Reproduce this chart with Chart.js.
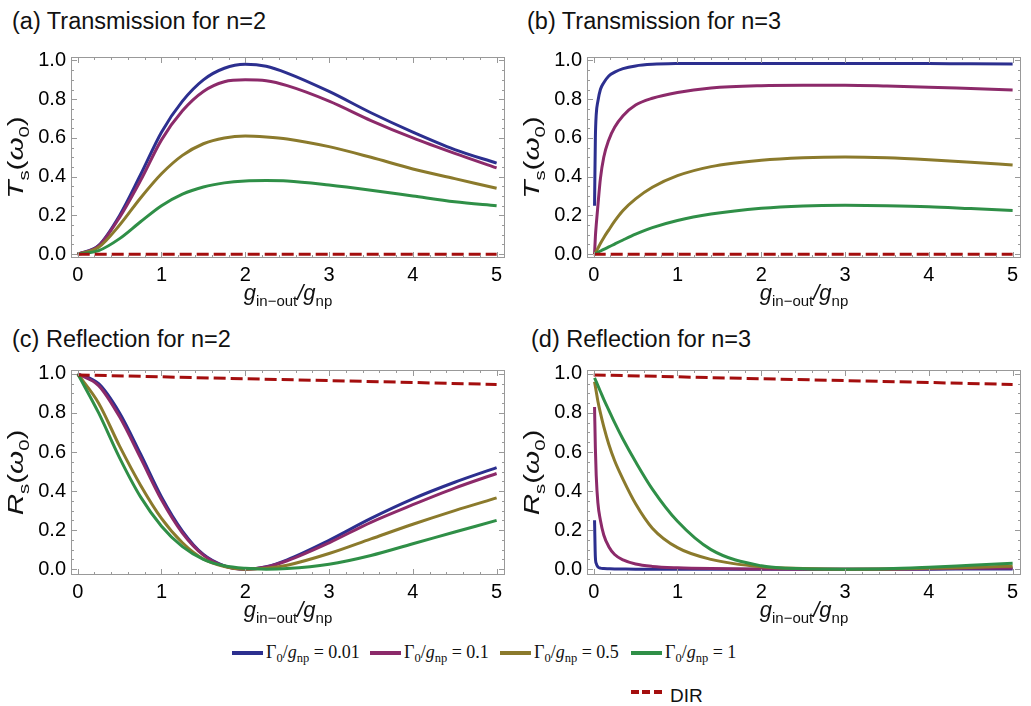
<!DOCTYPE html>
<html>
<head>
<meta charset="utf-8">
<script src="https://cdn.jsdelivr.net/npm/chart.js@4.4.1/dist/chart.umd.min.js"></script>
<style>
  body { margin: 0; background: #fff; width: 1031px; height: 706px; position: relative; overflow: hidden;
         font-family: "Liberation Sans", Arial, sans-serif; color: #111; }
  .panel { position: absolute; }
  .ptitle { position: absolute; font-size: 23.5px; white-space: nowrap; line-height: 26px; }
  .leg { position: absolute; font-family: "Liberation Serif", "DejaVu Serif", serif; font-size: 18px;
         line-height: 20px; white-space: nowrap; }
  .leg sub { font-size: 12.5px; vertical-align: -4px; line-height: 0; }
  .sw { position: absolute; height: 4px; width: 31px; }
</style>
</head>
<body>

<div class="ptitle" style="left:12px; top:8px">(a) Transmission for n=2</div>
<div class="ptitle" style="left:527px; top:8px">(b) Transmission for n=3</div>
<div class="ptitle" style="left:12px; top:326px">(c) Reflection for n=2</div>
<div class="ptitle" style="left:531px; top:326px">(d) Reflection for n=3</div>

<div class="panel" style="left:0px; top:40px"><canvas id="chartA" width="515" height="280"></canvas></div>
<div class="panel" style="left:514px; top:40px"><canvas id="chartB" width="517" height="280"></canvas></div>
<div class="panel" style="left:0px; top:353px"><canvas id="chartC" width="515" height="280"></canvas></div>
<div class="panel" style="left:514px; top:353px"><canvas id="chartD" width="517" height="280"></canvas></div>

<div id="legend"></div>

<script>
// x grid for the n=2 panels
var xGrid2 = [0, 0.25, 0.5, 0.75, 1, 1.25, 1.5, 1.75, 2, 2.25, 2.5, 3, 3.5, 4, 4.5, 5];
// x grid for the n=3 panels (dense near zero)
var xGrid3 = [0.01, 0.02, 0.03, 0.05, 0.08, 0.12, 0.18, 0.25, 0.35, 0.5, 0.7, 1, 1.4, 2, 2.5, 3, 3.5, 4, 4.5, 5];

// (a) transmission, n=2
var transN2_001 = [0, 0.045, 0.20, 0.41, 0.63, 0.79, 0.90, 0.96, 0.98, 0.97, 0.935, 0.84, 0.73, 0.63, 0.54, 0.47];
var transN2_01  = [0, 0.043, 0.19, 0.38, 0.59, 0.74, 0.84, 0.89, 0.90, 0.895, 0.87, 0.79, 0.69, 0.60, 0.52, 0.445];
var transN2_05  = [0, 0.035, 0.15, 0.29, 0.415, 0.51, 0.57, 0.60, 0.61, 0.605, 0.595, 0.555, 0.50, 0.44, 0.39, 0.34];
var transN2_1   = [0, 0.018, 0.08, 0.167, 0.25, 0.31, 0.347, 0.368, 0.378, 0.38, 0.378, 0.357, 0.33, 0.30, 0.27, 0.25];

// (b) transmission, n=3
var transN3_001 = [0.25, 0.60, 0.72, 0.79, 0.85, 0.885, 0.92, 0.94, 0.958, 0.972, 0.98, 0.984, 0.985, 0.985, 0.985, 0.985, 0.985, 0.984, 0.983, 0.982];
var transN3_01  = [0, 0.09, 0.15, 0.25, 0.39, 0.50, 0.59, 0.655, 0.715, 0.77, 0.805, 0.835, 0.858, 0.87, 0.872, 0.872, 0.868, 0.862, 0.855, 0.848];
var transN3_05  = [0, 0.007, 0.014, 0.03, 0.055, 0.085, 0.125, 0.17, 0.225, 0.285, 0.345, 0.405, 0.452, 0.485, 0.498, 0.502, 0.498, 0.488, 0.475, 0.46];
var transN3_1   = [0, 0.002, 0.004, 0.009, 0.016, 0.025, 0.037, 0.052, 0.073, 0.103, 0.137, 0.174, 0.207, 0.237, 0.249, 0.252, 0.25, 0.245, 0.235, 0.225];

// (c) reflection, n=2
var reflN2_001 = [1, 0.95, 0.80, 0.59, 0.37, 0.195, 0.075, 0.017, 0.0, 0.013, 0.048, 0.148, 0.26, 0.36, 0.445, 0.52];
var reflN2_01  = [1, 0.94, 0.78, 0.57, 0.355, 0.185, 0.072, 0.016, 0.0, 0.011, 0.043, 0.135, 0.24, 0.33, 0.415, 0.49];
var reflN2_05  = [1, 0.85, 0.63, 0.43, 0.26, 0.135, 0.052, 0.013, 0.0, 0.004, 0.02, 0.08, 0.155, 0.23, 0.30, 0.365];
var reflN2_1   = [1, 0.80, 0.57, 0.37, 0.22, 0.115, 0.05, 0.017, 0.004, 0.0, 0.003, 0.025, 0.07, 0.13, 0.19, 0.25];

// (d) reflection, n=3
var reflN3_001 = [0.25, 0.06, 0.03, 0.012, 0.005, 0.003, 0.002, 0.001, 0.0005, 0, 0, 0, 0, 0, 0, 0, 0, 0, 0.0005, 0.001];
var reflN3_01  = [0.83, 0.62, 0.48, 0.34, 0.25, 0.175, 0.115, 0.075, 0.047, 0.026, 0.014, 0.007, 0.003, 0.001, 0, 0, 0, 0.002, 0.004, 0.006];
var reflN3_05  = [0.96, 0.935, 0.91, 0.86, 0.80, 0.73, 0.64, 0.555, 0.46, 0.335, 0.21, 0.11, 0.05, 0.012, 0.003, 0, 0.001, 0.004, 0.009, 0.015];
var reflN3_1   = [0.98, 0.97, 0.96, 0.94, 0.91, 0.87, 0.815, 0.75, 0.665, 0.55, 0.41, 0.245, 0.10, 0.017, 0.002, 0, 0.002, 0.01, 0.02, 0.03];

// DIR reference curves
var dirX = [0, 1, 2, 3, 4, 5];
var dirTrans = [0, 0, 0, 0, 0, 0];
var dirRefl = [0.995, 0.985, 0.975, 0.966, 0.956, 0.946];

var xTicks = [0, 1, 2, 3, 4, 5];
var yTicks = [0, 0.2, 0.4, 0.6, 0.8, 1.0];
var legendLabels = ["0.01", "0.1", "0.5", "1"];

var colors = ["#2c2f8f", "#8c2a6a", "#8b7a2c", "#2f8f47"];
var dirColor = "#a40e0e";

function pts(xs, ys) {
    return xs.map(function (x, i) { return { x: x, y: ys[i] }; });
}

// frame with inward ticks on all four sides, Mathematica style
var framePlugin = {
    id: "frame",
    afterDraw: function (chart) {
        var ctx = chart.ctx, a = chart.chartArea, x = chart.scales.x, y = chart.scales.y;
        ctx.save();
        ctx.strokeStyle = "#999";
        ctx.lineWidth = 1;
        ctx.strokeRect(Math.round(a.left) + 0.5, Math.round(a.top) + 0.5,
                       Math.round(a.right - a.left) - 1, Math.round(a.bottom - a.top) - 1);
        ctx.beginPath();
        for (var i = 0; i <= 25; i++) {
            var px = Math.round(x.getPixelForValue(i * 0.2)) + 0.5;
            var len = i % 5 === 0 ? 6 : 3;
            ctx.moveTo(px, a.bottom); ctx.lineTo(px, a.bottom - len);
            ctx.moveTo(px, a.top); ctx.lineTo(px, a.top + len);
        }
        for (var j = 0; j <= 20; j++) {
            var py = Math.round(y.getPixelForValue(j * 0.05)) + 0.5;
            var l2 = j % 4 === 0 ? 6 : 3;
            ctx.moveTo(a.left, py); ctx.lineTo(a.left + l2, py);
            ctx.moveTo(a.right, py); ctx.lineTo(a.right - l2, py);
        }
        ctx.stroke();
        ctx.restore();
    }
};

function fontFor(p, size) {
    var s = p.sub ? Math.round(size * 0.7) : size;
    return (p.it ? "italic " : "") + s + "px 'Liberation Sans', Arial, sans-serif";
}

function drawRich(ctx, parts, size) {
    var w = 0;
    parts.forEach(function (p) { ctx.font = fontFor(p, size); p.w = ctx.measureText(p.t).width; w += p.w; });
    var cx = -w / 2;
    parts.forEach(function (p) {
        ctx.font = fontFor(p, size);
        ctx.fillText(p.t, cx, p.sub ? size * 0.25 : 0);
        cx += p.w;
    });
}

function axisTitlePlugin(yLetter) {
    return {
        id: "axisTitles",
        afterDraw: function (chart) {
            var ctx = chart.ctx, a = chart.chartArea;
            ctx.save();
            ctx.fillStyle = "#111";
            ctx.textBaseline = "alphabetic";
            ctx.translate((a.left + a.right) / 2, a.bottom + 42);
            drawRich(ctx, [
                { t: "g", it: true }, { t: "in\u2212out", sub: true }, { t: "/", it: true },
                { t: "g", it: true }, { t: "np", sub: true }
            ], 22);
            ctx.restore();

            ctx.save();
            ctx.fillStyle = "#111";
            ctx.textBaseline = "alphabetic";
            ctx.translate(a.left - 48, (a.top + a.bottom) / 2);
            ctx.rotate(-Math.PI / 2);
            ctx.scale(1.35, 1);
            drawRich(ctx, [
                { t: yLetter, it: true }, { t: "s", sub: true }, { t: "(" },
                { t: "\u03c9", it: true }, { t: "0", sub: true }, { t: ")" }
            ], 22);
            ctx.restore();
        }
    };
}

function makeChart(id, xs, series, dirYs, yMin, yMax, yWidth, xHeight, padTop, yLetter) {
    var datasets = series.map(function (ys, k) {
        return {
            data: pts(xs, ys),
            borderColor: colors[k],
            borderWidth: 3,
            pointRadius: 0,
            fill: false,
            cubicInterpolationMode: "monotone",
            order: 5 - k
        };
    });
    datasets.push({
        data: pts(dirX, dirYs),
        borderColor: dirColor,
        borderWidth: 3,
        borderDash: [12, 5],
        pointRadius: 0,
        fill: false,
        order: 0
    });
    return new Chart(document.getElementById(id), {
        type: "line",
        data: { datasets: datasets },
        options: {
            responsive: false,
            animation: false,
            layout: { padding: { top: padTop, right: 10, left: 0, bottom: 0 } },
            scales: {
                x: {
                    type: "linear",
                    min: -0.08,
                    max: 5.1,
                    grid: { display: false, drawTicks: false },
                    border: { display: false },
                    afterBuildTicks: function (s) { s.ticks = xTicks.map(function (v) { return { value: v }; }); },
                    afterFit: function (s) { s.height = xHeight; },
                    ticks: {
                        padding: 5,
                        maxRotation: 0,
                        color: "#000",
                        font: { size: 20, family: "'Liberation Sans', Arial, sans-serif" },
                        callback: function (v) { return String(v); }
                    }
                },
                y: {
                    type: "linear",
                    min: yMin,
                    max: yMax,
                    grid: { display: false, drawTicks: false },
                    border: { display: false },
                    afterBuildTicks: function (s) { s.ticks = yTicks.map(function (v) { return { value: v }; }); },
                    afterFit: function (s) { s.width = yWidth; },
                    ticks: {
                        padding: 5,
                        color: "#000",
                        font: { size: 20, family: "'Liberation Sans', Arial, sans-serif" },
                        callback: function (v) { return Number(v).toFixed(1); }
                    }
                }
            },
            plugins: {
                legend: { display: false },
                tooltip: { enabled: false }
            }
        },
        plugins: [framePlugin, axisTitlePlugin(yLetter)]
    });
}

makeChart("chartA", xGrid2, [transN2_001, transN2_01, transN2_05, transN2_1], dirTrans, -0.02, 1.018, 71, 62, 16, "T");
makeChart("chartB", xGrid3, [transN3_001, transN3_01, transN3_05, transN3_1], dirTrans, -0.02, 1.018, 73, 62, 16, "T");
makeChart("chartC", xGrid2, [reflN2_001, reflN2_01, reflN2_05, reflN2_1], dirRefl, -0.03, 1.02, 71, 58, 16, "R");
makeChart("chartD", xGrid3, [reflN3_001, reflN3_01, reflN3_05, reflN3_1], dirRefl, -0.03, 1.02, 73, 58, 16, "R");

// legend built as HTML
var legLines = [232, 370, 500, 631];
var leg = document.getElementById("legend");
legendLabels.forEach(function (lab, k) {
    var sw = document.createElement("div");
    sw.className = "sw";
    sw.style.left = legLines[k] + "px";
    sw.style.top = "651px";
    sw.style.background = colors[k];
    leg.appendChild(sw);
    var t = document.createElement("div");
    t.className = "leg";
    t.style.left = (legLines[k] + 34) + "px";
    t.style.top = "642px";
    t.innerHTML = "\u0393<sub>0</sub>/<i>g</i><sub>np</sub> = " + lab;
    leg.appendChild(t);
});
var dsw = document.createElement("div");
dsw.className = "sw";
dsw.style.left = "631px";
dsw.style.top = "690px";
dsw.style.background = "repeating-linear-gradient(to right, " + dirColor + " 0 8px, transparent 8px 11.5px)";
leg.appendChild(dsw);
var dt = document.createElement("div");
dt.style.cssText = "position:absolute; left:670px; top:685px; font-size:19px; line-height:22px;";
dt.textContent = "DIR";
leg.appendChild(dt);
</script>
</body>
</html>
